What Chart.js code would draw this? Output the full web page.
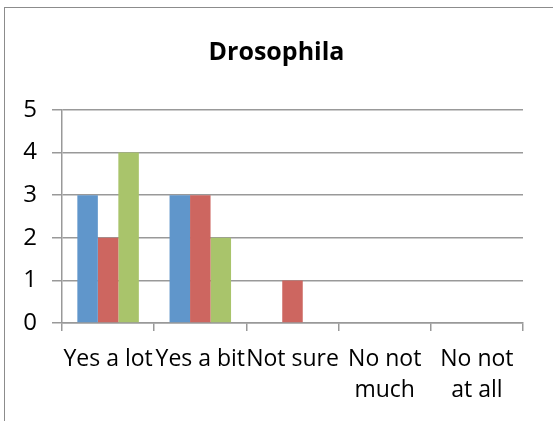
<!DOCTYPE html>
<html>
<head>
<meta charset="utf-8">
<script src="https://cdn.jsdelivr.net/npm/chart.js@4"></script>
<style>
  html, body { margin: 0; padding: 0; background: #fff; }
  #wrap { position: relative; width: 553px; height: 421px; overflow: hidden; }
  #frame { position: absolute; left: 4px; top: 7px; width: 600px; height: 500px;
           border-left: 1.5px solid #8c8c8c; border-top: 1.5px solid #8c8c8c; }
  canvas { position: absolute; left: 0; top: 0; }
</style>
</head>
<body>
<div id="wrap">
  <div id="frame"></div>
  <canvas id="chart" width="553" height="421"></canvas>
</div>
<script>
// Data
const categories = ["Yes a lot", "Yes a bit", "Not sure", ["No not", "much"], ["No not", "at all"]];
const series1 = [3, 3, 0, 0, 0];
const series2 = [2, 3, 1, 0, 0];
const series3 = [4, 2, 0, 0, 0];
const yTicks = [0, 1, 2, 3, 4, 5];

const fontFamily = "'Open Sans', sans-serif";
const gridColor = "#999999";

new Chart(document.getElementById("chart"), {
  type: "bar",
  data: {
    labels: categories,
    datasets: [
      { label: "Series1", data: series1, backgroundColor: "#6096cb" },
      { label: "Series2", data: series2, backgroundColor: "#cd6660" },
      { label: "Series3", data: series3, backgroundColor: "#a9c46b" }
    ]
  },
  options: {
    responsive: false,
    animation: false,
    layout: { padding: 0 },
    datasets: { bar: { barPercentage: 1, categoryPercentage: 0.667 } },
    plugins: {
      legend: { display: false },
      tooltip: { enabled: false },
      title: {
        display: true,
        text: "Drosophila",
        color: "#000",
        font: { family: fontFamily, size: 25, weight: "bold", lineHeight: 1.2 },
        padding: { top: 38, bottom: 42 }
      }
    },
    scales: {
      x: {
        grid: { drawOnChartArea: false, drawTicks: true, tickLength: 8, color: gridColor, lineWidth: 1.5 },
        border: { display: true, color: gridColor, width: 1.5 },
        ticks: {
          color: "#000",
          font: { family: fontFamily, size: 23, lineHeight: 1.35 },
          maxRotation: 0,
          autoSkip: false,
          padding: 13
        },
        afterFit: (scale) => { scale.height = 98; }
      },
      y: {
        min: 0,
        max: 5,
        grid: { color: gridColor, lineWidth: 1.5, tickLength: 10 },
        border: { display: true, color: gridColor, width: 1.5 },
        afterBuildTicks: (scale) => { scale.ticks = yTicks.map(v => ({ value: v })); },
        ticks: {
          color: "#000",
          font: { family: fontFamily, size: 24 },
          padding: 15
        },
        afterFit: (scale) => { scale.width = 62; }
      },
      // empty right margin so the title centres on the whole picture
      yr: {
        position: "right",
        grid: { display: false },
        border: { display: false },
        ticks: { display: false },
        afterFit: (scale) => { scale.width = 30; }
      }
    }
  }
});
</script>
</body>
</html>
